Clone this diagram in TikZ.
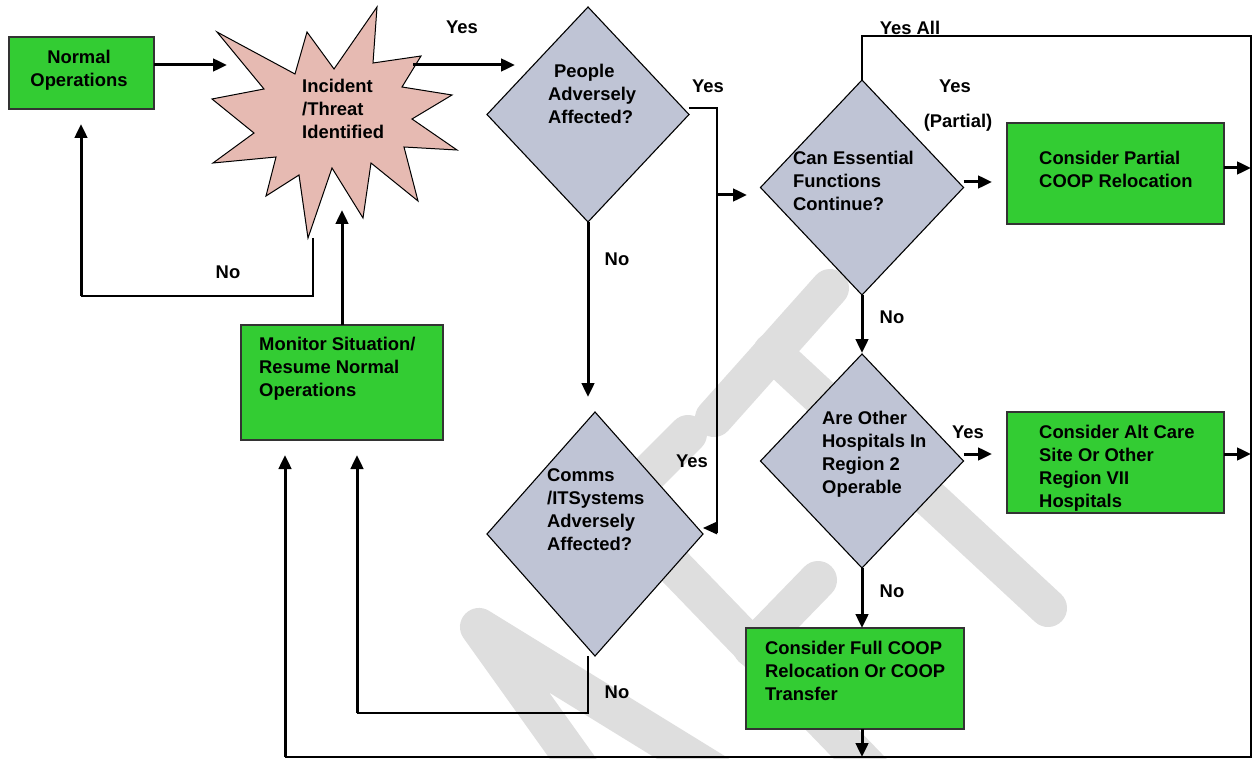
\documentclass[tikz,border=0pt]{standalone}
\usepackage{fontspec}
\setmainfont{Liberation Sans}
\usetikzlibrary{shapes.geometric,arrows.meta}
\definecolor{boxgreen}{RGB}{51,204,51}
\definecolor{diafill}{RGB}{191,196,213}
\definecolor{burstfill}{RGB}{230,186,178}
\definecolor{wmgray}{RGB}{222,222,222}
\begin{document}
\begin{tikzpicture}[x=1pt,y=-1pt,
  box/.style={draw=black!80,line width=1.6pt,fill=boxgreen,inner sep=0pt,outer sep=0pt},
  dia/.style={diamond,draw=black,line width=1.1pt,fill=diafill,inner sep=0pt,outer sep=0pt},
  txt/.style={font=\bfseries\fontsize{18.4}{23}\selectfont,align=left,inner sep=0pt,anchor=north west},
  lbl/.style={font=\bfseries\fontsize{18.4}{22}\selectfont,inner sep=0pt},
  arr/.style={line width=3pt,-{Triangle[length=14pt,width=12.5pt]}},
  thinarr/.style={line width=1.4pt,-{Triangle[length=14pt,width=12.5pt]}},
  conn/.style={line width=1.4pt},
  wmark/.style={draw=wmgray,line width=38pt,line cap=round,line join=round}]
\useasboundingbox (0,0) rectangle (1252,759);
\fill[white] (0,0) rectangle (1252,759);

% watermark
\draw[wmark] (594,788) -- (479,627) -- (760,800);
\draw[wmark] (688,434) -- (616,506) -- (900,800);
\draw[wmark] (752,648) -- (818,580);
\draw[wmark] (714,418) -- (830,288);
\draw[wmark] (772,352) -- (1048,608);

% boxes
\node[box,minimum width=145pt,minimum height=72pt] (normal) at (81.5,73) {};
\node[box,minimum width=202pt,minimum height=115pt] (monitor) at (342,382.5) {};
\node[box,minimum width=217pt,minimum height=101pt] (partial) at (1115.5,173.5) {};
\node[box,minimum width=217pt,minimum height=101pt] (altcare) at (1115.5,462.5) {};
\node[box,minimum width=218pt,minimum height=101pt] (fullcoop) at (855,678.5) {};

% diamonds
\node[dia,minimum width=202pt,minimum height=215pt] (people) at (588,114.5) {};
\node[dia,minimum width=203pt,minimum height=215pt] (canEss) at (862,187.5) {};
\node[dia,minimum width=203pt,minimum height=214pt] (areOther) at (862,461) {};
\node[dia,minimum width=216pt,minimum height=244pt] (comms) at (595,534) {};

% starburst
\draw[fill=burstfill,line width=1pt] (377,7) -- (373,63) -- (421,56) -- (402,87) -- (452,95) -- (412,119) -- (457,150) -- (404,147) -- (418,201) -- (371,163) -- (363,218) -- (332,168) -- (308,238) -- (299,175) -- (266,196) -- (276,157) -- (213,163) -- (254,133) -- (212,99) -- (264,89) -- (217,32) -- (295,74) -- (307,32) -- (334,69) -- cycle;

% texts
\node[txt,align=center,anchor=north] (normalT) at (79,50.4) {Normal\\Operations};
\node[txt] (incT) at (302,79.4) {Incident\\/Threat\\Identified};
\node[txt] (peopleT) at (548,64.4) {\hspace*{6pt}People\\Adversely\\Affected?};
\node[txt] (canEssT) at (793,151.4) {Can Essential\\Functions\\Continue?};
\node[txt] (partialT) at (1039,151.4) {Consider Partial\\COOP Relocation};
\node[txt] (areOtherT) at (822,411.4) {Are Other\\Hospitals In\\Region 2\\Operable};
\node[txt] (altcareT) at (1039,425.4) {Consider Alt Care\\Site Or Other\\Region VII\\Hospitals};
\node[txt] (commsT) at (547,468.4) {Comms\\/ITSystems\\Adversely\\Affected?};
\node[txt] (monitorT) at (259,337.4) {Monitor Situation/\\Resume Normal\\Operations};
\node[txt] (fullcoopT) at (765,641.4) {Consider Full COOP\\Relocation Or COOP\\Transfer};

% labels
\node[lbl] (yes1) at (462,27) {Yes};
\node[lbl] (no1) at (228,272) {No};
\node[lbl] (yes2) at (708,86) {Yes};
\node[lbl] (no2) at (617,259) {No};
\node[lbl] (yes3) at (692,461) {Yes};
\node[lbl] (no3) at (617,692) {No};
\node[lbl] (yesall) at (910,28) {Yes All};
\node[lbl] (yes4) at (955,86) {Yes};
\node[lbl] (partialL) at (958,123) {(Partial)};
\node[lbl] (no4) at (892,317) {No};
\node[lbl] (yes5) at (968,432) {Yes};
\node[lbl] (no5) at (892,591) {No};

% connector coordinates
\coordinate (incW) at (227,65);
\coordinate (incE) at (413,65);
\coordinate (incS) at (313,238);
\coordinate (incN) at (342,210);
\coordinate (pplIn) at (515,65);
\coordinate (noLoopC) at (81,296);
\coordinate (normIn) at (81,124);
\coordinate (yesTop) at (717,108);
\coordinate (yesBot) at (717,528);
\coordinate (yesEnd) at (717,533);
\coordinate (yesBranch) at (717,195);
\coordinate (canIn) at (747,195);
\coordinate (commsIn) at (703,528);
\coordinate (commsTopIn) at (588,397);
\coordinate (commsOut) at (588,656);
\coordinate (commsLoop) at (357,713);
\coordinate (monIn1) at (357,455);
\coordinate (monIn2) at (285,455);
\coordinate (frameTL) at (862,36);
\coordinate (frameTR) at (1251,36);
\coordinate (frameBR) at (1251,757);
\coordinate (frameBL) at (285,757);
\coordinate (partialIn) at (992,182);
\coordinate (partialOut) at (1251,168);
\coordinate (altIn) at (992,454);
\coordinate (altOut) at (1251,454);
\coordinate (areIn) at (862,353);
\coordinate (fullIn) at (862,628);
\coordinate (bottomIn) at (862,757);

% connectors
\draw[arr] (normal.east |- incW) -- (incW);
\draw[arr] (incE) -- (pplIn);
\draw[conn] (incS) -- (incS |- noLoopC) -- (noLoopC);
\draw[arr] (noLoopC) -- (normIn);
\draw[arr] (monitor.north) -- (incN);
\draw[conn] (people.east |- yesTop) -- (yesTop) -- (yesEnd);
\draw[thinarr] (yesBot) -- (commsIn);
\draw[arr] (yesBranch) -- (canIn);
\draw[arr] (people.south) -- (commsTopIn);
\draw[conn] (commsOut) -- (commsOut |- commsLoop) -- (commsLoop);
\draw[arr] (commsLoop) -- (monIn1);
\draw[conn] (canEss.north) -- (frameTL) -- (frameTR) -- (frameBR) -- (frameBL);
\draw[arr] (frameBL) -- (monIn2);
\draw[arr] (canEss.east |- partialIn) -- (partialIn);
\draw[arr] (partial.east |- partialOut) -- (partialOut);
\draw[arr] (canEss.south) -- (areIn);
\draw[arr] (areOther.east |- altIn) -- (altIn);
\draw[arr] (altcare.east |- altOut) -- (altOut);
\draw[arr] (areOther.south) -- (fullIn);
\draw[arr] (fullcoop.south -| fullIn) -- (bottomIn);
\end{tikzpicture}
\end{document}
